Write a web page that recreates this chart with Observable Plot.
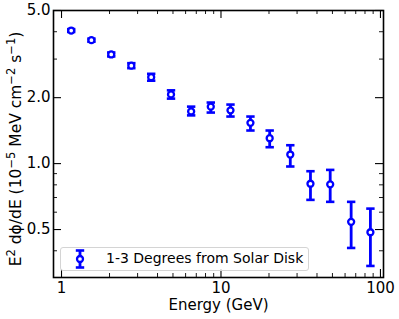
<!DOCTYPE html>
<html><head><meta charset="utf-8">
<script src="https://cdn.jsdelivr.net/npm/d3@7"></script>
<script src="https://cdn.jsdelivr.net/npm/@observablehq/plot@0.6"></script>
<style>
body{margin:0;background:#fff;font-family:"DejaVu Sans",sans-serif;}
#wrap{position:relative;width:399px;height:319px;}
#legend{position:absolute;left:60px;top:247px;width:249px;height:24px;border:1px solid #d4d4d4;border-radius:3px;background:rgba(255,255,255,0.8);box-sizing:border-box;font-size:14px;color:#000;}
#legend svg{position:absolute;left:9px;top:1px;}
#legend span{position:absolute;left:45px;top:2px;white-space:nowrap;}
</style></head><body><div id="wrap"></div>
<script>
// Data
const energy = [1.15, 1.54, 2.05, 2.74, 3.65, 4.86, 6.50, 8.63, 11.47, 15.3, 20.2, 27.2, 36.4, 48.4, 65.5, 86.5];
const flux   = [4.05, 3.66, 3.15, 2.80, 2.48, 2.07, 1.73, 1.82, 1.75, 1.535, 1.306, 1.10, 0.809, 0.804, 0.542, 0.486];
const fluxLo = [3.99, 3.60, 3.085, 2.727, 2.39, 1.98, 1.66, 1.71, 1.64, 1.416, 1.188, 0.970, 0.683, 0.669, 0.412, 0.341];
const fluxHi = [4.11, 3.72, 3.216, 2.874, 2.57, 2.16, 1.82, 1.90, 1.86, 1.64, 1.416, 1.213, 0.923, 0.936, 0.669, 0.623];
const seriesLabel = "1-3 Degrees from Solar Disk";
const xMajor = [1, 10, 100];
const xTickLabels = ["1", "10", "100"];
const xMinor = [2, 3, 4, 5, 6, 7, 8, 9, 20, 30, 40, 50, 60, 70, 80, 90];
const yMajor = [0.5, 1, 2, 5];
const yTickLabels = ["0.5", "1.0", "2.0", "5.0"];
const yMinor = [0.4, 0.6, 0.7, 0.8, 0.9, 3, 4];
const xLabel = "Energy (GeV)";
const yLabelParts = [["E",0],["2",1],[" d",0],["\u03d5",0],["/dE (10",0],["\u22125",1],[" MeV cm",0],["\u22122",1],[" s",0],["\u22121",1],[")",0]];

const data = energy.map((e, i) => ({e, f: flux[i], lo: fluxLo[i], hi: fluxHi[i]}));

const W = 399, H = 319, mL = 53, mR = 16, mT = 10, mB = 42;
const fw = W - mL - mR, fh = H - mT - mB;
const blue = "#0000ff";
const capSymbol = {draw(ctx, size) { const w = Math.sqrt(size / Math.PI); ctx.moveTo(-w, 0); ctx.lineTo(w, 0); }};
const Y_PLACEHOLDER = "__YLABEL__";

const chart = Plot.plot({
  width: W, height: H,
  marginLeft: mL, marginRight: mR, marginTop: mT, marginBottom: mB,
  style: {fontFamily: "DejaVu Sans", fontSize: "15px", background: "white", color: "black"},
  x: {type: "log", domain: [0.8907, 104.5]},
  y: {type: "log", domain: [0.302, 5.0]},
  marks: [
    Plot.tickX(xMajor, {x: d => d, insetTop: fh - 8, stroke: "black", strokeWidth: 1.1}),
    Plot.tickX(xMajor, {x: d => d, insetBottom: fh - 8, stroke: "black", strokeWidth: 1.1}),
    Plot.tickX(xMinor, {x: d => d, insetTop: fh - 4, stroke: "black", strokeWidth: 0.9}),
    Plot.tickX(xMinor, {x: d => d, insetBottom: fh - 4, stroke: "black", strokeWidth: 0.9}),
    Plot.tickY(yMajor, {y: d => d, insetRight: fw - 8, stroke: "black", strokeWidth: 1.1}),
    Plot.tickY(yMajor, {y: d => d, insetLeft: fw - 8, stroke: "black", strokeWidth: 1.1}),
    Plot.tickY(yMinor, {y: d => d, insetRight: fw - 4, stroke: "black", strokeWidth: 0.9}),
    Plot.tickY(yMinor, {y: d => d, insetLeft: fw - 4, stroke: "black", strokeWidth: 0.9}),
    Plot.axisX({ticks: xMajor, tickFormat: d => xTickLabels[xMajor.indexOf(d)], tickSize: 0, tickPadding: 5, fontSize: 15, label: null}),
    Plot.axisY({ticks: yMajor, tickFormat: d => yTickLabels[yMajor.indexOf(d)], tickSize: 0, tickPadding: 3, fontSize: 15, label: null}),
    Plot.text([xLabel], {text: d => d, frameAnchor: "bottom", dy: 32, fontSize: 15}),
    Plot.text([Y_PLACEHOLDER], {text: d => d, frameAnchor: "left", textAnchor: "middle", lineAnchor: "middle", rotate: -90, dx: -37, dy: 5, fontSize: 15.5}),
    Plot.ruleX(data, {x: "e", y1: "lo", y2: "hi", stroke: blue, strokeWidth: 2.8}),
    Plot.dot(data, {x: "e", y: "lo", symbol: capSymbol, r: 4.2, stroke: blue, strokeWidth: 2.6, fill: "none"}),
    Plot.dot(data, {x: "e", y: "hi", symbol: capSymbol, r: 4.2, stroke: blue, strokeWidth: 2.6, fill: "none"}),
    Plot.dot(data, {x: "e", y: "f", r: 3, stroke: blue, strokeWidth: 2.3, fill: "white"}),
    Plot.frame({stroke: "black", strokeWidth: 1.6})
  ]
});

// y label with superscripts
const yl = Array.from(chart.querySelectorAll("text")).find(t => t.textContent === Y_PLACEHOLDER);
if (yl) {
  yl.textContent = "";
  yl.setAttribute("text-anchor", "middle");
  let prevSup = false;
  for (const [t, sup] of yLabelParts) {
    const ts = document.createElementNS("http://www.w3.org/2000/svg", "tspan");
    ts.textContent = t;
    if (sup) { ts.setAttribute("font-size", "11.5"); ts.setAttribute("dy", prevSup ? "0" : "-6.5"); }
    else if (prevSup) ts.setAttribute("dy", "6.5");
    prevSup = !!sup;
    yl.appendChild(ts);
  }
}

const wrap = document.getElementById("wrap");
wrap.appendChild(chart);
const leg = document.createElement("div");
leg.id = "legend";
leg.innerHTML = `<svg width="20" height="20" viewBox="-10 -10 20 20">
<line x1="0" y1="-8.5" x2="0" y2="8.5" stroke="${blue}" stroke-width="2.8"/>
<line x1="-4.2" y1="-8.5" x2="4.2" y2="-8.5" stroke="${blue}" stroke-width="2.6"/>
<line x1="-4.2" y1="8.5" x2="4.2" y2="8.5" stroke="${blue}" stroke-width="2.6"/>
<circle r="3" fill="white" stroke="${blue}" stroke-width="2.3"/></svg><span></span>`;
leg.querySelector("span").textContent = seriesLabel;
wrap.appendChild(leg);
</script></body></html>
